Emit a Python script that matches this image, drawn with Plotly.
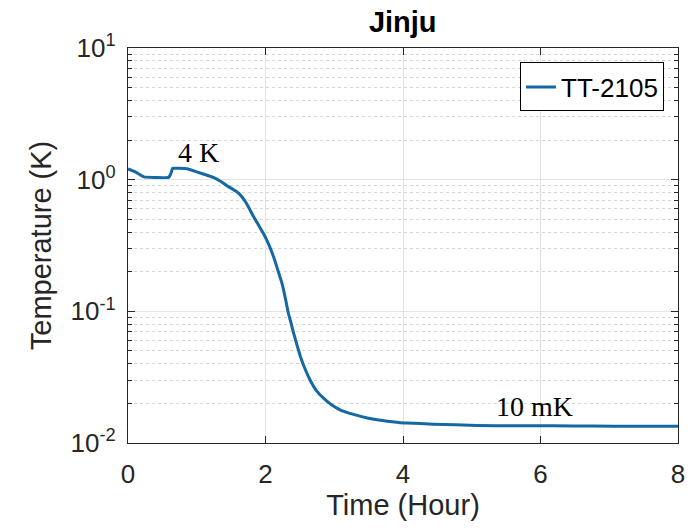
import math
import plotly.graph_objects as go

# Data (time in hours, temperature in K)
time_h = [0.00, 0.10, 0.23, 0.40, 0.59, 0.62, 0.65, 0.75, 0.86, 1.01, 1.13, 1.24, 1.35,
          1.44, 1.55, 1.63, 1.70, 1.76, 1.83, 1.90, 1.97, 2.05, 2.12, 2.18, 2.24, 2.29,
          2.33, 2.37, 2.41, 2.46, 2.51, 2.58, 2.65, 2.74, 2.84, 2.96, 3.09, 3.28,
          3.48, 3.70, 3.96, 4.06, 4.44, 5.08, 5.60, 6.20, 6.75, 7.40, 8.00]
temp_k = [1.21, 1.15, 1.05, 1.04, 1.04, 1.10, 1.22, 1.22, 1.21, 1.14, 1.09, 1.04, 0.97,
          0.90, 0.83, 0.77, 0.69, 0.61, 0.52, 0.45, 0.39, 0.32, 0.257, 0.205, 0.163, 0.125,
          0.098, 0.082, 0.068, 0.055, 0.045, 0.036, 0.030, 0.025, 0.022, 0.0195, 0.0178, 0.0165,
          0.0155, 0.0148, 0.01425, 0.0142, 0.0139, 0.0136, 0.0135, 0.0135, 0.01346, 0.0134, 0.0134]

series_name = "TT-2105"
title_text = "Jinju"
x_ticks = [0, 2, 4, 6, 8]
y_ticks = [0.01, 0.1, 1, 10]
y_ticktext = ["10<sup>-2</sup>", "10<sup>-1</sup>", "10<sup>0</sup>", "10<sup>1</sup>"]
y_minor = [m * d for d in [0.01, 0.1, 1] for m in range(2, 10)]
annot_text = ["4 K", "10 mK"]
annot_x = [1.03, 5.91]
annot_y = [1.6, 0.019]

SANS = "Liberation Sans, Arial, Helvetica, sans-serif"
SERIF = "Liberation Serif, Times New Roman, serif"
AX = "#262626"

fig = go.Figure()
fig.add_trace(go.Scatter(
    x=time_h, y=temp_k, mode="lines", name=series_name,
    line=dict(color="#1469a3", width=3, shape="spline", smoothing=0.4),
))

for t, xv, yv in zip(annot_text, annot_x, annot_y):
    fig.add_annotation(x=xv, y=math.log10(yv), yref="y", xref="x", text=t, showarrow=False,
                       font=dict(family=SERIF, size=28, color="black"))

fig.update_layout(
    width=700, height=528,
    margin=dict(l=127.5, r=22, t=47.5, b=85),
    paper_bgcolor="white", plot_bgcolor="white",
    title=dict(text="<b>" + title_text + "</b>", x=0.5 * (127.5 + 678) / 700, xanchor="center",
               y=1 - 22 / 528, yanchor="middle",
               font=dict(family=SANS, size=29, color="black")),
    showlegend=True,
    legend=dict(x=(664 - 127.5) / 550.5, xanchor="right",
                y=(443 - 62) / 395.5, yanchor="top",
                bgcolor="white", bordercolor="black", borderwidth=1,
                font=dict(family=SANS, size=26, color="black"),
                itemwidth=30, tracegroupgap=0),
    xaxis=dict(
        range=[0, 8], tickvals=x_ticks, ticks="inside", ticklen=7, tickcolor=AX,
        showline=True, linecolor=AX, linewidth=1.3, mirror="ticks",
        showgrid=True, gridcolor="#e3e3e3", gridwidth=1, zeroline=False,
        tickfont=dict(family=SANS, size=26, color=AX),
        ticklabelstandoff=8,
        title=dict(text="Time (Hour)", font=dict(family=SANS, size=29, color=AX), standoff=6),
    ),
    yaxis=dict(
        type="log", range=[-2, 1], tickvals=y_ticks, ticktext=y_ticktext,
        ticks="inside", ticklen=7, tickcolor=AX,
        showline=True, linecolor=AX, linewidth=1.3, mirror="ticks",
        showgrid=True, gridcolor="#e3e3e3", gridwidth=1, zeroline=False,
        tickfont=dict(family=SANS, size=26, color=AX),
        ticklabelstandoff=6,
        minor=dict(tickvals=y_minor, ticks="inside", ticklen=4, tickcolor=AX,
                   showgrid=True, gridcolor="#d6d6d6", griddash="dot", gridwidth=1),
        title=dict(text="Temperature (K)", font=dict(family=SANS, size=29, color=AX), standoff=10),
    ),
)

fig.write_html("out.html")
